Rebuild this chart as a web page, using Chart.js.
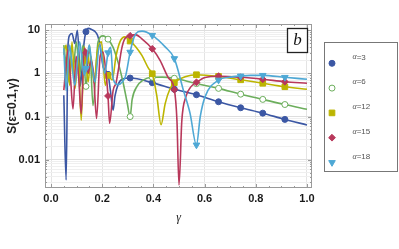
<!DOCTYPE html>
<html>
<head>
<meta charset="utf-8">
<script src="https://cdn.jsdelivr.net/npm/chart.js@4.4.0/dist/chart.umd.min.js"></script>
<style>
  html, body { margin: 0; padding: 0; background: #fff; overflow: hidden; }
</style>
</head>
<body>
<canvas id="chart" width="399" height="249"></canvas>
<script>
// marker positions (same gamma for every curve)
const markerGamma = [0.1364, 0.2227, 0.3091, 0.3955, 0.4818, 0.5682, 0.6545, 0.7409, 0.8273, 0.9136];

// alpha = 3
const gamma3 = [0.050, 0.059, 0.066, 0.073, 0.082, 0.093, 0.103, 0.109, 0.114, 0.121, 0.129, 0.1364, 0.146, 0.160, 0.172, 0.182, 0.192, 0.204, 0.2227, 0.232, 0.2425, 0.250, 0.262, 0.280, 0.3091, 0.3955, 0.4818, 0.5682, 0.6545, 0.7409, 0.8273, 0.9136, 1.0];
const s3 = [0.31, 0.0034, 4, 7.7, 8.4, 4.9, 10, 3, 0.5, 1.2, 5, 9.2, 11, 10.3, 9.3, 7.5, 4.2, 1.4, 0.95, 0.4, 0.14, 0.3, 0.55, 0.74, 0.78, 0.61, 0.43, 0.32, 0.22, 0.16, 0.12, 0.086, 0.064];

// alpha = 6
const gamma6 = [0.050, 0.059, 0.066, 0.078, 0.086, 0.099, 0.112, 0.125, 0.1364, 0.151, 0.164, 0.184, 0.203, 0.2227, 0.2425, 0.262, 0.282, 0.297, 0.3091, 0.317, 0.336, 0.360, 0.3955, 0.434, 0.4818, 0.5682, 0.6545, 0.7409, 0.8273, 0.9136, 1.0];
const s6 = [4.5, 1.5, 0.63, 2.5, 1.2, 5.4, 0.9, 4.5, 0.5, 4.5, 0.18, 5.4, 7.4, 6.2, 4, 1.8, 0.6, 0.22, 0.1, 0.25, 0.5, 0.7, 0.81, 0.82, 0.77, 0.58, 0.45, 0.33, 0.25, 0.19, 0.148];

// alpha = 12
const gamma12 = [0.050, 0.059, 0.073, 0.082, 0.094, 0.106, 0.118, 0.130, 0.1364, 0.145, 0.156, 0.168, 0.182, 0.197, 0.212, 0.2227, 0.239, 0.254, 0.270, 0.289, 0.3091, 0.330, 0.355, 0.381, 0.3955, 0.413, 0.430, 0.446, 0.465, 0.4818, 0.524, 0.5682, 0.6545, 0.7409, 0.8273, 0.9136, 1.0];
const s12 = [2.7, 4.5, 0.53, 5.4, 0.45, 3, 0.082, 4.1, 2.0, 0.63, 2.5, 0.6, 3.5, 5.4, 0.53, 0.9, 0.7, 2.5, 5.5, 7, 5.6, 4.2, 2.6, 1.3, 0.98, 0.31, 0.065, 0.2, 0.44, 0.61, 0.83, 0.93, 0.85, 0.71, 0.59, 0.49, 0.43];

// alpha = 15
const gamma15 = [0.050, 0.059, 0.066, 0.076, 0.086, 0.098, 0.108, 0.118, 0.130, 0.1364, 0.145, 0.156, 0.166, 0.178, 0.192, 0.203, 0.215, 0.2227, 0.229, 0.2425, 0.254, 0.262, 0.276, 0.289, 0.3091, 0.330, 0.355, 0.3955, 0.426, 0.458, 0.4818, 0.492, 0.500, 0.511, 0.527, 0.548, 0.5682, 0.602, 0.6545, 0.7409, 0.8273, 0.9136, 1.0];
const s15 = [0.41, 1.5, 3.5, 0.8, 0.15, 2.5, 0.8, 0.117, 3.8, 3.0, 1.0, 2, 1.0, 0.09, 2.5, 3.1, 1.0, 0.3, 0.07, 0.4, 0.6, 1.1, 3.7, 6.4, 7.4, 7.9, 6.3, 3.7, 2, 0.8, 0.42, 0.08, 0.0026, 0.08, 0.29, 0.5, 0.62, 0.8, 0.86, 0.81, 0.73, 0.64, 0.59];

// alpha = 18
const gamma18 = [0.050, 0.059, 0.073, 0.082, 0.093, 0.112, 0.121, 0.130, 0.1364, 0.149, 0.160, 0.171, 0.190, 0.210, 0.2227, 0.233, 0.2425, 0.262, 0.280, 0.292, 0.3091, 0.325, 0.340, 0.356, 0.3955, 0.446, 0.4818, 0.517, 0.543, 0.5682, 0.583, 0.602, 0.6545, 0.700, 0.7409, 0.780, 0.8273, 0.9136, 1.0];
const s18 = [3.8, 0.4, 4.5, 1.5, 0.53, 5.4, 2, 0.9, 1.3, 4.5, 1.5, 0.63, 4.5, 1.0, 3, 4, 0.76, 0.55, 0.65, 0.9, 3.1, 7, 9.2, 9.5, 7.6, 4.1, 2.2, 0.41, 0.12, 0.022, 0.1, 0.29, 0.7, 0.82, 0.87, 0.9, 0.9, 0.81, 0.73];

const alphaLabels = ['3', '6', '12', '15', '18'];
const xTickValues = [0, 0.2, 0.4, 0.6, 0.8, 1.0];
const xTickLabels = ['0.0', '0.2', '0.4', '0.6', '0.8', '1.0'];
const yTickValues = [0.01, 0.1, 1, 10];
const yTickLabels = ['0.01', '0.1', '1', '10'];

const series = [
    { g: gamma3, v: s3, color: '#3b57a4', style: 'circle', r: 3, fill: true, rot: 0 },
    { g: gamma6, v: s6, color: '#6cae5c', style: 'circle', r: 3, fill: false, rot: 0 },
    { g: gamma12, v: s12, color: '#bcb500', style: 'rect', r: 4, fill: true, rot: 0 },
    { g: gamma15, v: s15, color: '#b8385b', style: 'rectRot', r: 3.4, fill: true, rot: 0 },
    { g: gamma18, v: s18, color: '#4ea8d5', style: 'triangle', r: 3.8, fill: true, rot: 180 },
];

const isMark = g => markerGamma.some(m => Math.abs(m - g) < 1e-6);

// log grid: decades plus 2..9 minors
const yGrid = [];
for (let e = -3; e <= 1; e++) {
    for (let m = 1; m <= 9; m++) {
        const v = m * Math.pow(10, e);
        if (v >= 0.00222 && v <= 13.9) yGrid.push(v);
    }
}
const isDecade = v => Math.abs(Math.log10(v) - Math.round(Math.log10(v))) < 1e-6;

const framePlugin = {
    id: 'frame',
    afterDraw(chart) {
        const ctx = chart.ctx;
        const a = chart.chartArea;
        const xs = chart.scales.x, ys = chart.scales.y;
        ctx.save();
        ctx.strokeStyle = '#9a9a9a';
        ctx.lineWidth = 1;
        ctx.strokeRect(a.left + 0.5, a.top + 0.5, a.right - a.left - 1, a.bottom - a.top - 1);
        ctx.beginPath();
        for (let k = 0; k <= 20; k++) {
            const px = Math.round(xs.getPixelForValue(k * 0.05)) + 0.5;
            const len = k % 4 === 0 ? 4 : 2;
            ctx.moveTo(px, a.bottom); ctx.lineTo(px, a.bottom - len);
            ctx.moveTo(px, a.top); ctx.lineTo(px, a.top + len);
        }
        yGrid.forEach(v => {
            const py = Math.round(ys.getPixelForValue(v)) + 0.5;
            const len = isDecade(v) ? 4 : 2;
            ctx.moveTo(a.left, py); ctx.lineTo(a.left + len, py);
            ctx.moveTo(a.right, py); ctx.lineTo(a.right - len, py);
        });
        ctx.stroke();

        // panel label
        ctx.fillStyle = '#fff';
        ctx.fillRect(287.5, 28.5, 20, 24);
        ctx.strokeStyle = '#222';
        ctx.lineWidth = 1.3;
        ctx.strokeRect(287.5, 28.5, 20, 24);
        ctx.fillStyle = '#111';
        ctx.font = 'italic 17px "Liberation Serif"';
        ctx.textAlign = 'center';
        ctx.textBaseline = 'middle';
        ctx.fillText('b', 297.5, 40.5);

        // legend
        ctx.strokeStyle = '#777';
        ctx.lineWidth = 1;
        ctx.strokeRect(324.5, 42.5, 73, 129);
        series.forEach((s, i) => {
            const my = 63.3 + 24.8 * i;
            ctx.fillStyle = s.fill ? s.color : '#fff';
            ctx.strokeStyle = s.color;
            ctx.lineWidth = 1;
            Chart.helpers.drawPoint(ctx, { pointStyle: s.style, radius: s.r, rotation: s.rot, borderWidth: 1 }, 332, my);
            const ty = my - 6;
            ctx.fillStyle = '#555';
            ctx.textAlign = 'left';
            ctx.textBaseline = 'middle';
            ctx.font = 'italic 8px "Liberation Serif"';
            ctx.fillText('α', 352.5, ty);
            const w = ctx.measureText('α').width;
            ctx.font = '8px "Liberation Sans"';
            ctx.fillText('=' + alphaLabels[i], 352.5 + w, ty);
        });
        ctx.restore();
    }
};

new Chart(document.getElementById('chart'), {
    type: 'line',
    data: {
        datasets: series.map((s, i) => ({
            label: 'α=' + alphaLabels[i],
            data: s.g.map((g, j) => ({ x: g, y: s.v[j] })),
            borderColor: s.color,
            borderWidth: 1.6,
            backgroundColor: s.fill ? s.color : '#fff',
            pointBackgroundColor: s.fill ? s.color : '#fff',
            pointBorderColor: s.color,
            pointBorderWidth: 1,
            pointStyle: s.style,
            pointRotation: s.rot,
            pointRadius: c => (c.raw && isMark(c.raw.x)) ? s.r : 0,
            pointHoverRadius: 0,
            cubicInterpolationMode: 'monotone',
            fill: false,
            order: 4 - i,
        })),
    },
    options: {
        responsive: false,
        animation: false,
        devicePixelRatio: 1,
        layout: { padding: { top: 24, right: 87, left: 0, bottom: 0 } },
        plugins: { legend: { display: false }, tooltip: { enabled: false } },
        scales: {
            x: {
                type: 'linear',
                min: -0.0235,
                max: 1.0196,
                afterBuildTicks: scale => { scale.ticks = xTickValues.map(v => ({ value: v })); },
                afterFit: scale => { scale.height = 61; },
                ticks: {
                    autoSkip: false,
                    maxRotation: 0,
                    padding: 4,
                    color: '#1a1a1a',
                    font: { family: 'Liberation Sans', size: 11, weight: 'bold' },
                    callback: v => xTickLabels[xTickValues.indexOf(v)],
                },
                grid: { color: '#e4e4e4', drawTicks: false },
                border: { display: false },
                title: {
                    display: true,
                    text: 'γ',
                    color: '#222',
                    font: { family: 'Liberation Serif', size: 12, style: 'italic' },
                    padding: { top: 0, bottom: 24 },
                },
            },
            y: {
                type: 'logarithmic',
                min: 0.00222,
                max: 13.9,
                afterBuildTicks: scale => { scale.ticks = yGrid.map(v => ({ value: v })); },
                afterFit: scale => { scale.width = 45; },
                ticks: {
                    autoSkip: false,
                    padding: 5,
                    color: '#1a1a1a',
                    font: { family: 'Liberation Sans', size: 11, weight: 'bold' },
                    callback: v => {
                        const k = yTickValues.findIndex(t => Math.abs(t - v) / t < 1e-6);
                        return k >= 0 ? yTickLabels[k] : '';
                    },
                },
                grid: {
                    color: c => isDecade(c.tick.value) ? '#dedede' : '#efefef',
                    drawTicks: false,
                },
                border: { display: false },
                title: {
                    display: true,
                    text: 'S(ε=0.1,γ)',
                    color: '#222',
                    font: { family: 'Liberation Sans', size: 12, weight: 'bold' },
                    padding: { top: 5, bottom: 0 },
                },
            },
        },
    },
    plugins: [framePlugin],
});
</script>
</body>
</html>
